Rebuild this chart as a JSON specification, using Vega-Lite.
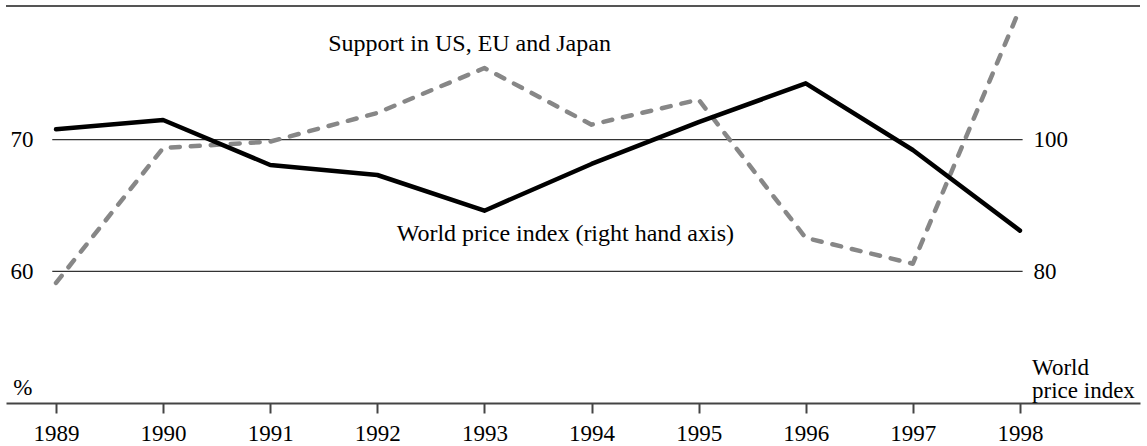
{
  "$schema": "https://vega.github.io/schema/vega-lite/v6.json",
  "width": 1134,
  "height": 397,
  "padding": {"left": 6, "top": 6, "right": 7, "bottom": 43},
  "autosize": {"type": "none"},
  "background": "white",
  "config": {
    "view": {"stroke": null},
    "font": "Liberation Serif",
    "axis": {"labelFont": "Liberation Serif", "labelFontSize": 23, "labelColor": "#000", "grid": false, "title": null}
  },
  "datasets": {
    "series": [
      {"year": 1989, "support": 59.12, "price": 101.62},
      {"year": 1990, "support": 69.37, "price": 103.04},
      {"year": 1991, "support": 69.85, "price": 96.2},
      {"year": 1992, "support": 72.03, "price": 94.68},
      {"year": 1993, "support": 75.44, "price": 89.26},
      {"year": 1994, "support": 71.14, "price": 96.36},
      {"year": 1995, "support": 73.04, "price": 102.7},
      {"year": 1996, "support": 62.54, "price": 108.6},
      {"year": 1997, "support": 60.58, "price": 98.48},
      {"year": 1998, "support": 79.95, "price": 86.23}
    ],
    "one": [{"k": 1}]
  },
  "layer": [
    {
      "layer": [
        {
          "data": {"name": "one"},
          "mark": {"type": "rule", "color": "#333", "strokeWidth": 1.3},
          "encoding": {
            "x": {"datum": 1988.965, "type": "quantitative", "axis": {"values": [1989, 1990, 1991, 1992, 1993, 1994, 1995, 1996, 1997, 1998], "format": "d", "domainColor": "#444", "domainWidth": 2, "tickColor": "#444", "tickWidth": 2, "tickSize": 10, "labelPadding": 9, "labelFlush": false, "labelOverlap": false, "title": null}},
            "x2": {"datum": 1998.025},
            "y": {"datum": 70, "type": "quantitative"}
          }
        },
        {
          "data": {"name": "one"},
          "mark": {"type": "rule", "color": "#333", "strokeWidth": 1.3},
          "encoding": {
            "x": {"datum": 1988.965, "type": "quantitative", "axis": {"values": [1989, 1990, 1991, 1992, 1993, 1994, 1995, 1996, 1997, 1998], "format": "d", "domainColor": "#444", "domainWidth": 2, "tickColor": "#444", "tickWidth": 2, "tickSize": 10, "labelPadding": 9, "labelFlush": false, "labelOverlap": false, "title": null}},
            "x2": {"datum": 1998.025},
            "y": {"datum": 60, "type": "quantitative"}
          }
        },
        {
          "data": {"name": "one"},
          "mark": {"type": "rule", "color": "#555", "strokeWidth": 2},
          "encoding": {
            "y": {"datum": 80.15, "type": "quantitative"}
          }
        },
        {
          "data": {"name": "series"},
          "mark": {"type": "line", "color": "#878787", "strokeWidth": 4.5, "strokeDash": [9, 11], "strokeCap": "round", "strokeJoin": "round"},
          "encoding": {
            "x": {
              "field": "year", "type": "quantitative",
              "scale": {"domain": [1988.533, 1999.121], "nice": false, "zero": false},
              "axis": {"values": [1989, 1990, 1991, 1992, 1993, 1994, 1995, 1996, 1997, 1998], "format": "d", "domainColor": "#444", "domainWidth": 2, "tickColor": "#444", "tickWidth": 2, "tickSize": 10, "labelPadding": 9, "labelFlush": false, "labelOverlap": false, "title": null}
            },
            "y": {
              "field": "support", "type": "quantitative",
              "scale": {"domain": [50, 80.15], "nice": false, "zero": false},
              "axis": {
                "orient": "left", "values": [60, 70], "offset": -30, "domain": false,
                "ticks": false, "tickSize": 0, "labelPadding": 3, "title": null
              }
            }
          }
        },
        {
          "data": {"name": "one"},
          "mark": {"type": "text", "align": "left", "baseline": "alphabetic", "fontSize": 24, "font": "Liberation Serif", "color": "#000"},
          "encoding": {
            "x": {"datum": 1991.542, "type": "quantitative", "axis": {"values": [1989, 1990, 1991, 1992, 1993, 1994, 1995, 1996, 1997, 1998], "format": "d", "domainColor": "#444", "domainWidth": 2, "tickColor": "#444", "tickWidth": 2, "tickSize": 10, "labelPadding": 9, "labelFlush": false, "labelOverlap": false, "title": null}},
            "y": {"datum": 76.73, "type": "quantitative"},
            "text": {"value": "Support in US, EU and Japan"}
          }
        },
        {
          "data": {"name": "one"},
          "mark": {"type": "text", "align": "left", "baseline": "alphabetic", "fontSize": 24, "font": "Liberation Serif", "color": "#000"},
          "encoding": {
            "x": {"datum": 1992.181, "type": "quantitative", "axis": {"values": [1989, 1990, 1991, 1992, 1993, 1994, 1995, 1996, 1997, 1998], "format": "d", "domainColor": "#444", "domainWidth": 2, "tickColor": "#444", "tickWidth": 2, "tickSize": 10, "labelPadding": 9, "labelFlush": false, "labelOverlap": false, "title": null}},
            "y": {"datum": 62.33, "type": "quantitative"},
            "text": {"value": "World price index (right hand axis)"}
          }
        },
        {
          "data": {"name": "one"},
          "mark": {"type": "text", "align": "left", "baseline": "alphabetic", "fontSize": 23, "font": "Liberation Serif", "color": "#000"},
          "encoding": {
            "x": {"datum": 1988.6, "type": "quantitative", "axis": {"values": [1989, 1990, 1991, 1992, 1993, 1994, 1995, 1996, 1997, 1998], "format": "d", "domainColor": "#444", "domainWidth": 2, "tickColor": "#444", "tickWidth": 2, "tickSize": 10, "labelPadding": 9, "labelFlush": false, "labelOverlap": false, "title": null}},
            "y": {"datum": 50.61, "type": "quantitative"},
            "text": {"value": "%"}
          }
        },
        {
          "data": {"name": "one"},
          "mark": {"type": "text", "align": "left", "baseline": "alphabetic", "fontSize": 23, "font": "Liberation Serif", "color": "#000", "lineHeight": 23},
          "encoding": {
            "x": {"datum": 1998.113, "type": "quantitative", "axis": {"values": [1989, 1990, 1991, 1992, 1993, 1994, 1995, 1996, 1997, 1998], "format": "d", "domainColor": "#444", "domainWidth": 2, "tickColor": "#444", "tickWidth": 2, "tickSize": 10, "labelPadding": 9, "labelFlush": false, "labelOverlap": false, "title": null}},
            "y": {"datum": 52.13, "type": "quantitative"},
            "text": {"value": ["World", "price index"]}
          }
        }
      ]
    },
    {
      "data": {"name": "series"},
      "mark": {"type": "line", "color": "#000", "strokeWidth": 4.5, "strokeCap": "round", "strokeJoin": "round"},
      "encoding": {
        "x": {"field": "year", "type": "quantitative", "axis": {"values": [1989, 1990, 1991, 1992, 1993, 1994, 1995, 1996, 1997, 1998], "format": "d", "domainColor": "#444", "domainWidth": 2, "tickColor": "#444", "tickWidth": 2, "tickSize": 10, "labelPadding": 9, "labelFlush": false, "labelOverlap": false, "title": null}},
        "y": {
          "field": "price", "type": "quantitative",
          "scale": {"domain": [60.05, 120.35], "nice": false, "zero": false},
          "axis": {
            "orient": "right", "values": [80, 100], "offset": -110, "domain": false,
            "ticks": false, "tickSize": 0, "labelPadding": 3, "title": null
          }
        }
      }
    }
  ],
  "resolve": {"scale": {"y": "independent"}}
}
